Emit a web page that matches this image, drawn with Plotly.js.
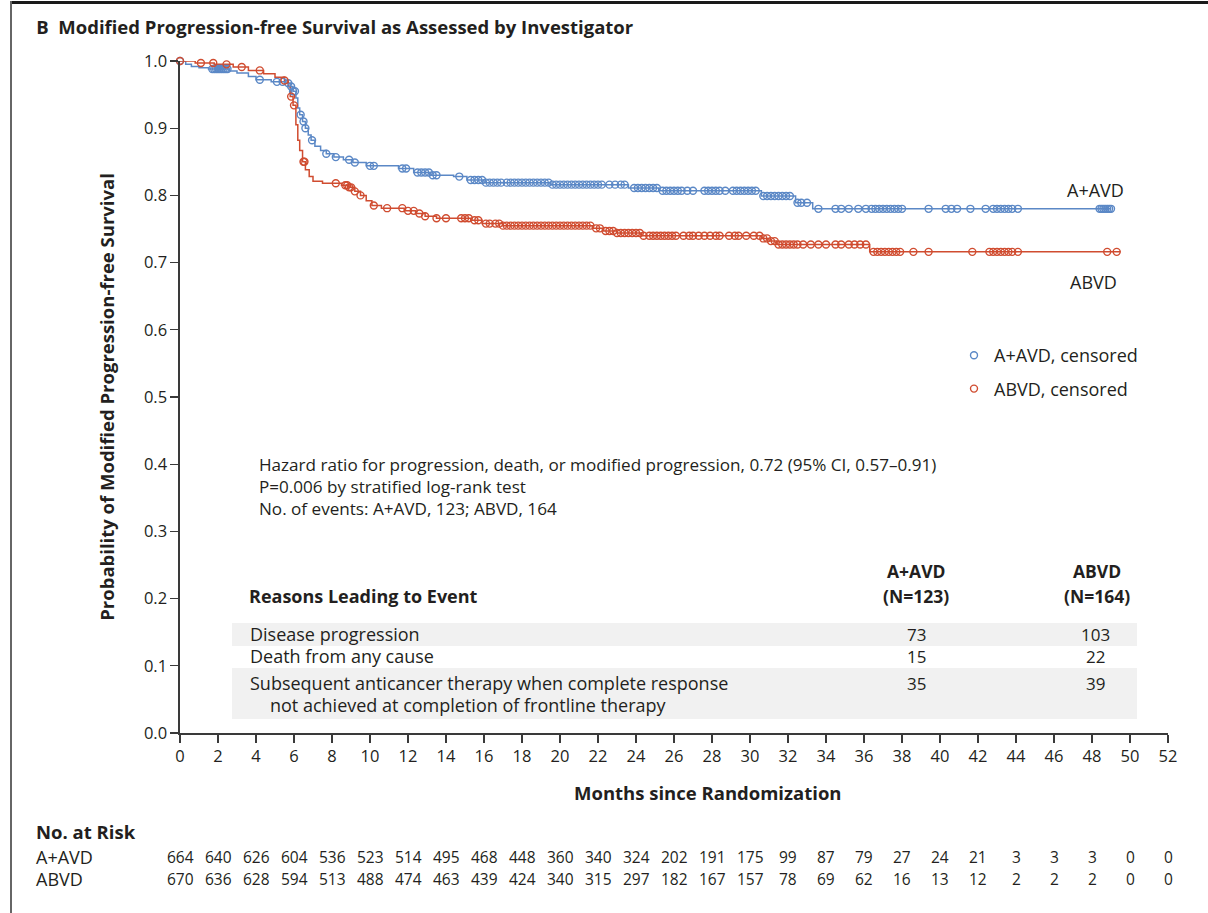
<!DOCTYPE html>
<html>
<head>
<meta charset="utf-8">
<script src="https://cdn.plot.ly/plotly-3.0.1.min.js"></script>
<style>
  html, body { margin: 0; padding: 0; background: #fff; }
  #wrap { position: relative; width: 1208px; height: 913px; }
  #chart { width: 1208px; height: 913px; }
  #topline { position: absolute; left: 10px; top: 1px; width: 1198px; height: 3px; background: #1a1a1a; }
  #leftline { position: absolute; left: 10px; top: 1px; width: 2px; height: 912px; background: #666; }
</style>
</head>
<body>
<div id="wrap">
  <div id="chart"></div>
  <div id="topline"></div>
  <div id="leftline"></div>
</div>
<script>
// ---- Kaplan-Meier step data (months, survival probability) ----
const aavdTimes = [0, 0.3, 0.6, 1.0, 1.5, 2.6, 3.0, 3.6, 4.0, 4.8, 5.5, 5.8, 5.95, 6.1, 6.2, 6.3, 6.45, 6.6, 6.75, 6.9, 7.1, 7.4, 7.7, 8.1, 8.6, 9.1, 9.8, 11.5, 12.3, 13.2, 14.4, 15.1, 16.0, 19.5, 23.6, 25.2, 30.6, 32.4, 33.3, 49.0];
const aavdSurv  = [1.0, 0.995, 0.992, 0.990, 0.988, 0.985, 0.982, 0.977, 0.972, 0.969, 0.967, 0.962, 0.955, 0.945, 0.930, 0.920, 0.910, 0.900, 0.890, 0.882, 0.873, 0.867, 0.862, 0.857, 0.853, 0.849, 0.844, 0.840, 0.834, 0.830, 0.828, 0.823, 0.819, 0.816, 0.811, 0.807, 0.799, 0.789, 0.780, 0.780];

const abvdTimes = [0, 0.8, 1.8, 2.8, 3.6, 4.4, 5.0, 5.5, 5.7, 5.8, 5.95, 6.1, 6.2, 6.3, 6.45, 6.6, 6.8, 7.0, 7.5, 8.5, 8.9, 9.2, 9.5, 9.8, 10.1, 10.6, 11.8, 12.4, 12.9, 13.5, 15.3, 15.9, 17.0, 21.7, 22.3, 23.0, 24.3, 30.6, 31.0, 31.4, 36.3, 49.5];
const abvdSurv  = [1.0, 0.997, 0.995, 0.991, 0.986, 0.981, 0.976, 0.971, 0.962, 0.947, 0.934, 0.905, 0.882, 0.867, 0.850, 0.838, 0.828, 0.821, 0.818, 0.815, 0.812, 0.806, 0.800, 0.792, 0.785, 0.781, 0.777, 0.773, 0.769, 0.766, 0.763, 0.758, 0.755, 0.751, 0.747, 0.744, 0.740, 0.736, 0.732, 0.727, 0.716, 0.716];

// ---- censoring times (months) ----
const aavdCensored = [0, 1.7, 1.8, 1.9, 2.0, 2.1, 2.2, 2.3, 2.4, 2.5, 4.2, 5.1, 5.4, 5.7, 5.85, 5.95, 6.05, 6.35, 6.5, 6.6, 6.95, 7.7, 8.2, 8.9, 9.2, 10.0, 10.2, 11.7, 11.9, 12.5, 12.7, 12.9, 13.1, 13.3, 13.5, 14.7, 15.3, 15.5, 15.7, 15.9, 16.1, 16.3, 16.5, 16.7, 16.9, 17.2, 17.4, 17.6, 17.8, 18.0, 18.2, 18.4, 18.6, 18.8, 19.0, 19.2, 19.4, 19.6, 19.8, 20.0, 20.2, 20.4, 20.6, 20.8, 21.0, 21.2, 21.4, 21.6, 21.8, 22.0, 22.2, 22.6, 22.9, 23.2, 23.4, 23.9, 24.1, 24.3, 24.5, 24.7, 24.9, 25.1, 25.4, 25.6, 25.8, 26.0, 26.2, 26.4, 26.7, 27.0, 27.6, 27.8, 28.0, 28.2, 28.4, 28.7, 29.1, 29.3, 29.5, 29.7, 29.9, 30.1, 30.3, 30.7, 30.9, 31.1, 31.3, 31.5, 31.7, 31.9, 32.1, 32.5, 32.7, 33.0, 33.6, 34.5, 34.8, 35.2, 35.7, 36.1, 36.4, 36.6, 36.8, 37.0, 37.2, 37.4, 37.6, 37.8, 38.0, 39.4, 40.3, 40.6, 40.9, 41.6, 42.4, 42.8, 43.0, 43.2, 43.4, 43.6, 43.8, 44.1, 48.4, 48.5, 48.6, 48.7, 48.8, 48.9, 49.0];
const abvdCensored = [0, 1.1, 1.75, 2.45, 3.25, 4.2, 5.5, 5.85, 6.0, 6.5, 6.55, 8.2, 8.7, 8.8, 8.9, 9.0, 9.2, 9.5, 10.2, 10.9, 11.7, 12.0, 12.3, 12.6, 12.9, 13.5, 14.0, 14.8, 15.0, 15.2, 15.5, 15.7, 16.1, 16.3, 16.6, 16.8, 17.0, 17.2, 17.4, 17.6, 17.8, 18.0, 18.2, 18.4, 18.6, 18.8, 19.0, 19.2, 19.4, 19.6, 19.8, 20.0, 20.2, 20.4, 20.6, 20.8, 21.0, 21.2, 21.4, 21.6, 21.9, 22.1, 22.4, 22.6, 22.8, 23.0, 23.2, 23.4, 23.6, 23.8, 24.0, 24.2, 24.4, 24.7, 24.9, 25.1, 25.3, 25.5, 25.7, 25.9, 26.1, 26.5, 26.8, 27.0, 27.3, 27.6, 27.9, 28.2, 28.4, 28.9, 29.2, 29.4, 29.8, 30.2, 30.5, 30.7, 30.9, 31.1, 31.3, 31.5, 31.7, 31.9, 32.1, 32.3, 32.5, 32.8, 33.2, 33.6, 34.0, 34.5, 34.8, 35.2, 35.5, 35.8, 36.1, 36.5, 36.7, 36.9, 37.1, 37.3, 37.5, 37.7, 37.9, 38.6, 39.4, 41.7, 42.6, 42.8, 43.0, 43.2, 43.4, 43.6, 43.8, 44.1, 48.8, 49.3];

// ---- number at risk ----
const riskMonths = [0, 2, 4, 6, 8, 10, 12, 14, 16, 18, 20, 22, 24, 26, 28, 30, 32, 34, 36, 38, 40, 42, 44, 46, 48, 50, 52];
const riskAAVD = [664, 640, 626, 604, 536, 523, 514, 495, 468, 448, 360, 340, 324, 202, 191, 175, 99, 87, 79, 27, 24, 21, 3, 3, 3, 0, 0];
const riskABVD = [670, 636, 628, 594, 513, 488, 474, 463, 439, 424, 340, 315, 297, 182, 167, 157, 78, 69, 62, 16, 13, 12, 2, 2, 2, 0, 0];

// ---- event reasons table ----
const reasons = [["Disease progression"], ["Death from any cause"], ["Subsequent anticancer therapy when complete response", "not achieved at completion of frontline therapy"]];
const eventsAAVD = [73, 15, 35];
const eventsABVD = [103, 22, 39];

const statLines = [
  "Hazard ratio for progression, death, or modified progression, 0.72 (95% CI, 0.57\u20130.91)",
  "P=0.006 by stratified log-rank test",
  "No. of events: A+AVD, 123; ABVD, 164"
];

const BLUE = "#5b88c6";
const RED = "#d04c30";
const TXT = "#231f20";
const FONT = "'Open Sans', Lato, sans-serif";

function survAt(times, surv, t) {
  let v = surv[0];
  for (let i = 0; i < times.length; i++) { if (times[i] <= t + 1e-9) v = surv[i]; }
  return v;
}

const traces = [
  { x: aavdTimes, y: aavdSurv, mode: "lines", line: { shape: "hv", color: BLUE, width: 1.5 }, showlegend: false, hoverinfo: "skip", cliponaxis: false },
  { x: abvdTimes, y: abvdSurv, mode: "lines", line: { shape: "hv", color: RED, width: 1.5 }, showlegend: false, hoverinfo: "skip", cliponaxis: false },
  { x: aavdCensored, y: aavdCensored.map(t => survAt(aavdTimes, aavdSurv, t)), mode: "markers", name: "A+AVD, censored", legendgroup: "a",
    marker: { symbol: "circle-open", size: 7, color: BLUE, line: { width: 1.4 } }, cliponaxis: false },
  { x: abvdCensored, y: abvdCensored.map(t => survAt(abvdTimes, abvdSurv, t)), mode: "markers", name: "ABVD, censored", legendgroup: "b",
    marker: { symbol: "circle-open", size: 7, color: RED, line: { width: 1.4 } }, cliponaxis: false }
];

const X0 = 180, PW = 988, Y0 = 733, PH = 672;
const px = v => (v - X0) / PW;   // pixel -> paper x
const py = v => (Y0 - v) / PH;   // pixel -> paper y

function txt(text, xp, yp, size, anchor, extra) {
  return Object.assign({ text: text, xref: "paper", yref: "paper", x: px(xp), y: py(yp), showarrow: false,
    xanchor: anchor || "left", yanchor: "middle", font: { size: size, color: TXT, family: FONT } }, extra || {});
}

const ann = [];
// curve labels
ann.push(txt("A+AVD", 1095, 190, 18, "center"));
ann.push(txt("ABVD", 1093, 282, 18, "center"));
// stats
const statY = [464, 486, 508];
statLines.forEach((s, i) => ann.push(txt(s, 257, statY[i], 17.1, "left")));
// table header
ann.push(txt("<b>Reasons Leading to Event</b>", 247, 596, 18, "left"));
ann.push(txt("<b>A+AVD</b>", 916, 571, 17.5, "center"));
ann.push(txt("<b>(N=123)</b>", 916, 596, 17.5, "center"));
ann.push(txt("<b>ABVD</b>", 1097, 571, 17.5, "center"));
ann.push(txt("<b>(N=164)</b>", 1097, 596, 17.5, "center"));
// table rows
const rowY = [634, 656, 683];
reasons.forEach((lines, i) => {
  lines.forEach((line, j) => ann.push(txt(line, j === 0 ? 248 : 268, rowY[i] + 22 * j, 18, "left")));
  ann.push(txt(String(eventsAAVD[i]), 916, rowY[i], 17, "center"));
  ann.push(txt(String(eventsABVD[i]), 1095, rowY[i], 17, "center"));
});
// x-axis title (placed right of centre as in the original)
ann.push(txt("<b>Months since Randomization</b>", 708, 793, 18.5, "center"));
// at-risk table
ann.push(txt("<b>No. at Risk</b>", 34, 831, 18.5, "left"));
ann.push(txt("A+AVD", 34, 857, 18, "left"));
ann.push(txt("ABVD", 34, 879, 18, "left"));
riskMonths.forEach((m, i) => {
  ann.push({ text: String(riskAAVD[i]), xref: "x", yref: "paper", x: m, y: py(857), showarrow: false, xanchor: "center", yanchor: "middle", font: { size: 15.5, color: TXT, family: FONT } });
  ann.push({ text: String(riskABVD[i]), xref: "x", yref: "paper", x: m, y: py(879), showarrow: false, xanchor: "center", yanchor: "middle", font: { size: 15.5, color: TXT, family: FONT } });
});

const shapes = [
  { type: "rect", xref: "paper", yref: "paper", x0: px(232), x1: px(1137), y0: py(646), y1: py(623), fillcolor: "#f1f1f1", line: { width: 0 }, layer: "below" },
  { type: "rect", xref: "paper", yref: "paper", x0: px(232), x1: px(1137), y0: py(719), y1: py(668), fillcolor: "#f1f1f1", line: { width: 0 }, layer: "below" }
];

const layout = {
  width: 1208, height: 913,
  margin: { l: 180, r: 40, t: 61, b: 180 },
  paper_bgcolor: "#ffffff", plot_bgcolor: "#ffffff",
  font: { family: FONT, color: TXT, size: 16 },
  title: { text: "<b>B</b>  <b>Modified Progression-free Survival as Assessed by Investigator</b>", xref: "container", yref: "container", x: 0.03, xanchor: "left", y: 0.97, yanchor: "middle", font: { size: 18.5, color: TXT, family: FONT } },
  xaxis: {
    range: [0, 52], dtick: 2, tick0: 0, showgrid: false, zeroline: false,
    showline: true, linecolor: "#3a3a3a", linewidth: 1.6,
    ticks: "outside", ticklen: 8, tickwidth: 1.3, tickcolor: "#3a3a3a",
    tickfont: { size: 16.5, color: TXT, family: FONT },
    fixedrange: true
  },
  yaxis: {
    range: [0, 1.0], dtick: 0.1, tick0: 0, tickformat: ".1f", showgrid: false, zeroline: false,
    showline: true, linecolor: "#3a3a3a", linewidth: 1.6,
    ticks: "outside", ticklen: 8, tickwidth: 1.3, tickcolor: "#3a3a3a",
    tickfont: { size: 16.5, color: TXT, family: FONT },
    title: { text: "<b>Probability of Modified Progression-free Survival</b>", standoff: 24, font: { size: 18.5, color: TXT, family: FONT } },
    fixedrange: true
  },
  legend: { x: px(954), y: py(337), xanchor: "left", yanchor: "top", bgcolor: "rgba(0,0,0,0)", font: { size: 18, color: TXT, family: FONT }, traceorder: "grouped", tracegroupgap: 7, itemwidth: 30 },
  annotations: ann,
  shapes: shapes,
  showlegend: true
};

Plotly.newPlot("chart", traces, layout, { staticPlot: true, displayModeBar: false });
</script>
</body>
</html>
